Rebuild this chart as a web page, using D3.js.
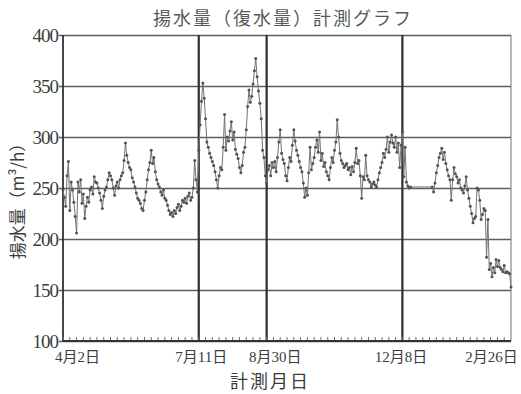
<!DOCTYPE html>
<html lang="ja">
<head>
<meta charset="utf-8">
<script src="https://cdn.jsdelivr.net/npm/d3@7/dist/d3.min.js"></script>
<style>
  html, body { margin: 0; padding: 0; background: #fff; }
  svg { display: block; }
  text { fill: #3a3d3c; }
</style>
</head>
<body>
<svg id="chart" width="521" height="394"></svg>
<script>
// Measurement period: one reading per day starting on 4/2
const firstDay = "2001-04-02";
const lastDay = "2002-02-26";

// Daily pumping (recharge) volume, m³/h. null = no reading that day.
const flow = [
  // 4/2 – 7/10
  248, 241, 232, 262, 276, 228, 256, 248, 236, 222,
  206, 256, 246, 258, 235, 244, 220, 232, 241, 236,
  248, 251, 244, 261, 256, 255, 250, 245, 238, 230,
  242, 248, 251, 258, 265, 262, 258, 250, 243, 252,
  256, 250, 258, 262, 265, 277, 294, 282, 275, 270,
  268, 260, 256, 251, 245, 240, 238, 235, 230, 228,
  238, 246, 258, 268, 275, 287, 274, 280, 266, 258,
  254, 251, 246, 243, 248, 240, 238, 233, 228, 224,
  226, 222, 228, 225, 231, 234, 228, 232, 238, 236,
  240, 235, 242, 245, 238, 241, 250, 277, 258, 246,
  // 7/11 – 8/29
  287, 312, 335, 353, 338, 318, 295, 290, 284, 280,
  276, 272, 266, 258, 250, 262, 270, 268, 290, 322,
  287, 300, 296, 306, 315, 297, 305, 288, 283, 279,
  270, 265, 272, 285, 290, 307, 330, 346, 334, 340,
  352, 365, 377, 359, 345, 333, 318, 287, 280, 262,
  // 8/30 – 12/7
  255, 268, 272, 262, 275, 270, 276, 266, 280, 295,
  307, 284, 278, 274, 262, 257, 270, 280, 276, 292,
  307, 296, 287, 282, 276, 270, 266, 255, 241, 250,
  243, 265, 290, 268, 274, 280, 290, 297, 285, 305,
  277, 284, 271, 275, 266, 262, 258, 270, 280, 275,
  287, 295, 317, 300, 284, 277, 274, 270, 272, 274,
  268, 270, 263, 271, 266, 275, 289, 274, 277, 262,
  240, 261, 258, 282, 262, 258, 256, 251, 254, 256,
  253, 251, 258, 265, 270, 275, 284, 280, 288, 300,
  285, 295, 302, 294, 290, 300, 285, 294, 270, 292,
  // 12/8 – 2/26
  305, 261, 290, 256, 252, 250, 251, null, null, null,
  null, null, null, null, null, null, null, null, null, null,
  null, null, 251, 246, 255, 265, 272, 280, 284, 289,
  278, 285, 274, 268, 262, 258, 238, 258, 270, 264,
  261, 255, 258, 250, 248, 245, 252, 261, 248, 240,
  232, 225, 216, 220, 222, 250, 248, 238, 219, 224,
  230, 228, 182, 219, 170, 176, 163, 172, 167, 180,
  173, 179, 172, 170, 168, 174, 167, 168, 167, 166,
  153
];

// Dates shown on the time axis, with their labels
const markDates = ["2001-04-02", "2001-07-11", "2001-08-30", "2001-12-08", "2002-02-26"];
const markLabels = ["4月2日", "7月11日", "8月30日", "12月8日", "2月26日"];
// Dates that get a heavy divider line across the plot
const dividerDates = ["2001-07-11", "2001-08-30", "2001-12-08"];
// Value axis ticks
const yTicks = [100, 150, 200, 250, 300, 350, 400];

const titleText = "揚水量（復水量）計測グラフ";
const yTitle = "揚水量（m³/h）";
const xTitle = "計測月日";

const parse = d3.utcParse("%Y-%m-%d");
const start = parse(firstDay);
const points = flow
  .map((v, i) => ({ date: d3.utcDay.offset(start, i), value: v }))
  .filter(d => d.value !== null);

const L = 63, R = 511, T = 35, B = 341;
const svg = d3.select("#chart");

const x = d3.scaleUtc().domain([start, parse(lastDay)]).range([L, R]);
const y = d3.scaleLinear().domain([100, 400]).range([B, T]);

const serif = "'Liberation Serif', 'Noto Sans CJK JP', serif";
const cjk = "'Noto Sans CJK JP', sans-serif";

// Title
svg.append("text")
  .attr("x", 283).attr("y", 25)
  .attr("text-anchor", "middle")
  .style("font-family", cjk)
  .style("font-size", "18px")
  .style("letter-spacing", "2px")
  .style("fill", "#555a58")
  .text(titleText);

// Horizontal grid lines, extending slightly left of the frame as ticks
const yAxis = d3.axisLeft(y)
  .tickValues(yTicks)
  .tickSize(-(R - L))
  .tickSizeOuter(0)
  .tickFormat(d3.format("d"))
  .tickPadding(4);
const yg = svg.append("g").attr("transform", `translate(${L},0)`).call(yAxis);
yg.select(".domain").remove();
yg.selectAll(".tick line")
  .attr("x1", -4)
  .attr("stroke", "#5b605e")
  .attr("stroke-width", 1.3);
yg.selectAll(".tick text")
  .attr("x", -5)
  .style("font-family", serif)
  .style("font-size", "19px")
  .style("letter-spacing", "-1px")
  .style("fill", "#3a3d3c");

// Frame
svg.append("line").attr("x1", L).attr("x2", L).attr("y1", T).attr("y2", B)
  .attr("stroke", "#2f3331").attr("stroke-width", 1.8);
svg.append("line").attr("x1", R).attr("x2", R).attr("y1", T).attr("y2", B)
  .attr("stroke", "#7a7f7d").attr("stroke-width", 1.1);
svg.append("line").attr("x1", L).attr("x2", R).attr("y1", B).attr("y2", B)
  .attr("stroke", "#2f3331").attr("stroke-width", 1.8);

// Heavy dividers at the marked dates
svg.append("g").selectAll("line")
  .data(dividerDates.map(parse))
  .join("line")
  .attr("x1", d => x(d)).attr("x2", d => x(d))
  .attr("y1", T).attr("y2", B)
  .attr("stroke", "#2b2f2d").attr("stroke-width", 2.2);

// Small day ticks along the bottom edge
const minor = d3.utcDay.range(start, parse(lastDay), 1).filter((d, i) => i % 5 === 0);
svg.append("g").selectAll("line")
  .data(minor)
  .join("line")
  .attr("x1", d => x(d)).attr("x2", d => x(d))
  .attr("y1", B - 4).attr("y2", B - 1)
  .attr("stroke", "#6b706e").attr("stroke-width", 1);

// Series line and markers
svg.append("path")
  .datum(points)
  .attr("fill", "none")
  .attr("stroke", "#6f7472")
  .attr("stroke-width", 1)
  .attr("d", d3.line().x(d => x(d.date)).y(d => y(d.value)));

svg.append("g").selectAll("circle")
  .data(points)
  .join("circle")
  .attr("cx", d => x(d.date))
  .attr("cy", d => y(d.value))
  .attr("r", 1.5)
  .attr("fill", "#4f5553");

// Date labels under the axis
const labelShift = [14, 2, 8, -2, -20];
const xAxis = d3.axisBottom(x)
  .tickValues(markDates.map(parse))
  .tickFormat((d, i) => markLabels[i])
  .tickSize(0)
  .tickPadding(10);
const xg = svg.append("g").attr("transform", `translate(0,${B})`).call(xAxis);
xg.select(".domain").remove();
xg.selectAll(".tick text")
  .attr("dx", (d, i) => labelShift[i])
  .style("font-family", serif)
  .style("font-size", "15px")
  .style("fill", "#3a3d3c");

// Axis titles
svg.append("text")
  .attr("x", 270).attr("y", 388)
  .attr("text-anchor", "middle")
  .style("font-family", cjk)
  .style("font-size", "18px")
  .style("letter-spacing", "2px")
  .text(xTitle);

svg.append("text")
  .attr("transform", "translate(24,197) rotate(-90)")
  .attr("text-anchor", "middle")
  .style("font-family", cjk)
  .style("font-size", "17px")
  .text(yTitle);
</script>
</body>
</html>
